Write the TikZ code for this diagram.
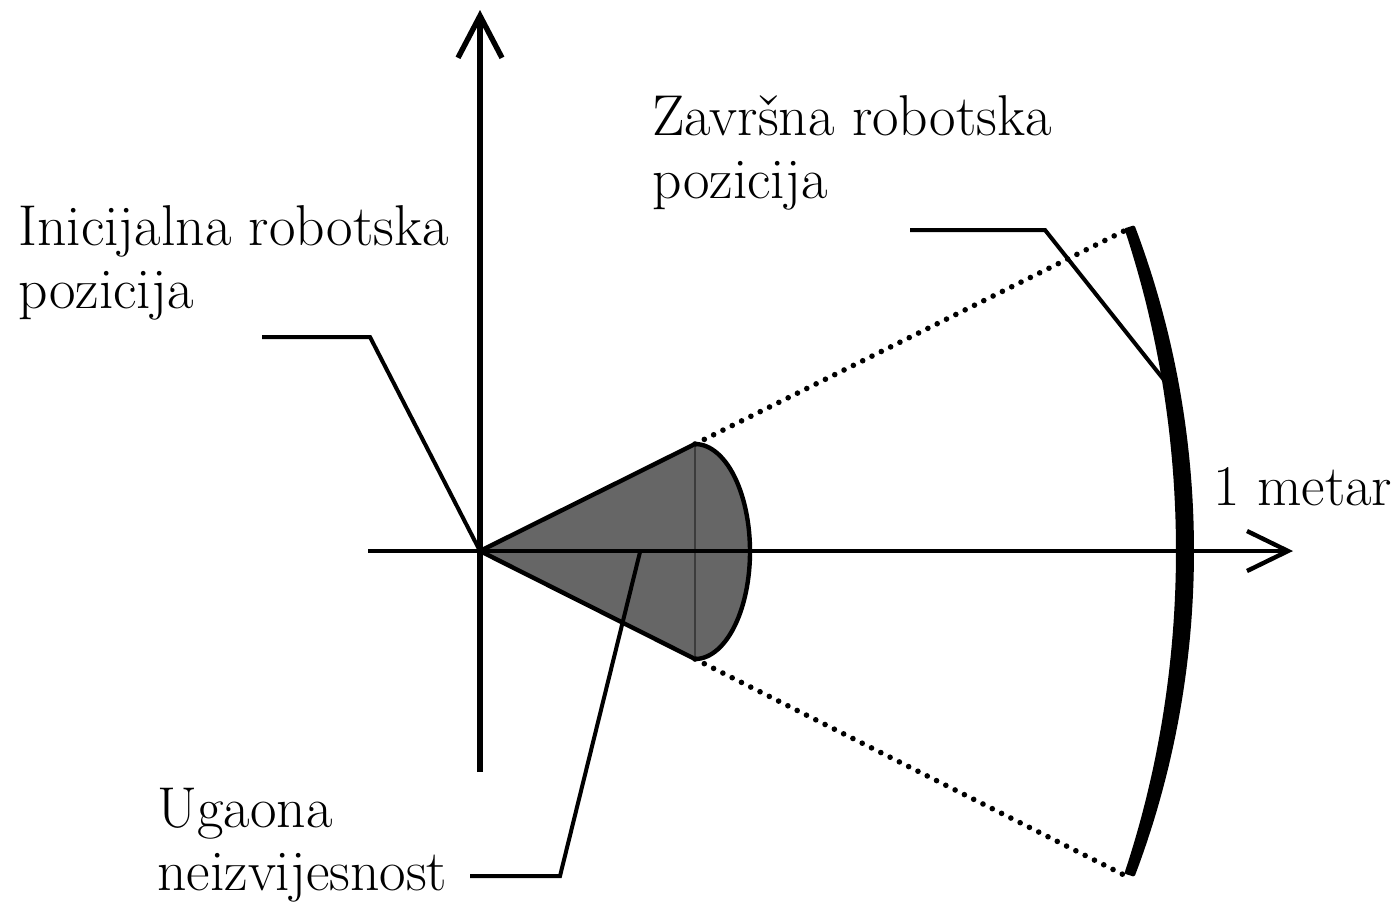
\documentclass[tikz,border=0pt]{standalone}
\usetikzlibrary{arrows.meta}
\definecolor{conefill}{RGB}{102,102,102}
\definecolor{chordgray}{RGB}{60,60,60}
\begin{document}
\begin{tikzpicture}[x=0.5pt,y=-0.5pt,
  lbl/.style={anchor=base west,inner sep=0pt,align=left,font=\fontsize{28.8}{31.5}\selectfont},
  axis/.style={line width=2.7pt,-{Straight Barb[length=21pt,width=22pt,line width=2.7pt]}},
  leader/.style={line width=2pt,line join=miter},
  dots/.style={line width=2.8pt,line cap=round,dash pattern=on 0pt off 5.2pt},
  rim/.style={fill=black,draw=black,line width=1.5pt,line join=round}]
\useasboundingbox (0,0) rectangle (1395,906);
% key points
\coordinate (O) at (480,551);
\coordinate (yb) at (480,772);
\coordinate (yt) at (480,10);
\coordinate (xl) at (368,551);
\coordinate (xr) at (1293,551);
\coordinate (ct) at (695,444);
\coordinate (cb) at (695,659);
\coordinate (rt) at (1130,228);
\coordinate (rb) at (1130,878);
% cone
\filldraw[fill=conefill,draw=black,line width=2.2pt,line join=round]
  (O) -- (ct) -- plot[domain=-90:90,samples=60] ({695+55*cos(\x)},{551.5+107.5*sin(\x)}) -- cycle;
\draw[chordgray,line width=0.7pt] (ct) -- (cb);
% axes
\draw[line width=2.2pt,-{Straight Barb[length=20.5pt,width=20pt,line width=2.2pt]}] (xl) -- (xr);
\draw[axis] (yb) -- (yt);
% dotted rays
\draw[dots] (ct) -- (rt);
\draw[dots] (cb) -- (rb);
% thick rim (tapered crescent)
\path[rim] plot[domain=-22.8:22.8,samples=60] ({480+(705+7.5-3.5*(\x/22.8)^2)*cos(\x)},{551+(833+5-2*(\x/22.8)^2)*sin(\x)})
  -- plot[domain=22.8:-22.8,samples=60] ({480+(705-7.5+3.5*(\x/22.8)^2)*cos(\x)},{551+(833-5+2*(\x/22.8)^2)*sin(\x)}) -- cycle;
% labels
\node[lbl] (init) at (18,308) {Inicijalna robotska\\pozicija};
\node[lbl] (fin) at (652,198) {Završna robotska\\pozicija};
\node[lbl] (ang) at (157,890) {Ugaona\\neizvijesnost};
\node[lbl] (met) at (1213,505) {1 metar};
% leader lines
\coordinate (i1) at (262,337);
\coordinate (i2) at (370,337);
\coordinate (f1) at (910,230);
\coordinate (f2) at (1045,230);
\coordinate (f3) at (1168,385);
\coordinate (a1) at (470,876);
\coordinate (a2) at (560,876);
\coordinate (a3) at (640,552);
\draw[leader] (i1) -- (i2) -- (O);
\draw[leader] (f1) -- (f2) -- (f3);
\draw[leader] (a1) -- (a2) -- (a3);
\end{tikzpicture}
\end{document}
